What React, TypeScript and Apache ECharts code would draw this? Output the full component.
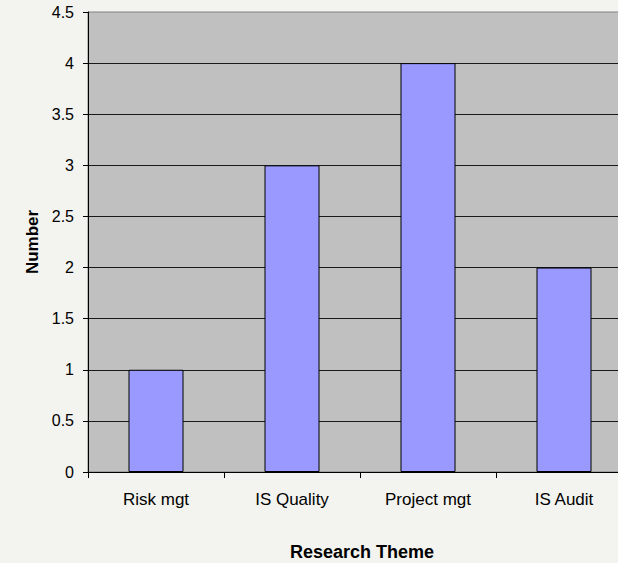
import React, { useEffect, useRef } from "react";
import * as echarts from "echarts";

const categories = ["Risk mgt", "IS Quality", "Project mgt", "IS Audit"];
const values = [1, 3, 4, 2];
const yAxisTitle = "Number";
const xAxisTitle = "Research Theme";

export default function App() {
  const ref = useRef<HTMLDivElement>(null);
  useEffect(() => {
    if (!ref.current) return;
    const chart = echarts.init(ref.current, null, { renderer: "svg" });
    chart.setOption({
      animation: false,
      backgroundColor: "#F3F3EF",
      textStyle: { fontFamily: "Liberation Sans, Arial, sans-serif" },
      grid: {
        left: 88,
        top: 12,
        width: 544,
        height: 460,
        show: true,
        backgroundColor: "#C0C0C0",
        borderColor: "#808080",
        borderWidth: 1,
      },
      xAxis: {
        type: "category",
        data: categories,
        boundaryGap: true,
        axisLine: { show: true, lineStyle: { color: "#000", width: 1 } },
        axisTick: { show: true, length: 6, interval: 0, lineStyle: { color: "#000" } },
        axisLabel: {
          color: "#000",
          fontSize: 17,
          margin: 19,
          interval: 0,
          fontFamily: "Liberation Sans, Arial, sans-serif",
        },
        splitLine: { show: false },
      },
      yAxis: {
        type: "value",
        min: 0,
        max: 4.5,
        interval: 0.5,
        axisLine: { show: true, lineStyle: { color: "#000", width: 1 } },
        axisTick: { show: true, length: 5, lineStyle: { color: "#000" } },
        axisLabel: {
          color: "#000",
          fontSize: 16,
          margin: 14,
          fontFamily: "Liberation Sans, Arial, sans-serif",
        },
        splitLine: {
          show: true,
          showMaxLine: false,
          lineStyle: { color: "#1a1a1a", width: 1 },
        },
      },
      series: [
        {
          type: "bar",
          data: values,
          barWidth: 55,
          itemStyle: { color: "#9999FF", borderColor: "#000", borderWidth: 1 },
        },
      ],
      graphic: [
        {
          type: "text",
          x: 32,
          y: 242,
          rotation: Math.PI / 2,
          style: {
            text: yAxisTitle,
            fontSize: 17,
            fontWeight: "bold",
            fill: "#000",
            fontFamily: "Liberation Sans, Arial, sans-serif",
            textAlign: "center",
            textVerticalAlign: "middle",
          },
        },
        {
          type: "text",
          x: 362,
          y: 552,
          style: {
            text: xAxisTitle,
            fontSize: 18,
            fontWeight: "bold",
            fill: "#000",
            fontFamily: "Liberation Sans, Arial, sans-serif",
            textAlign: "center",
            textVerticalAlign: "middle",
          },
        },
      ],
    });
    return () => chart.dispose();
  }, []);
  return (
    <div
      style={{
        position: "fixed",
        left: 0,
        top: 0,
        width: 618,
        height: 563,
        overflow: "hidden",
      }}
    >
      <div ref={ref} style={{ width: 640, height: 563 }} />
    </div>
  );
}
